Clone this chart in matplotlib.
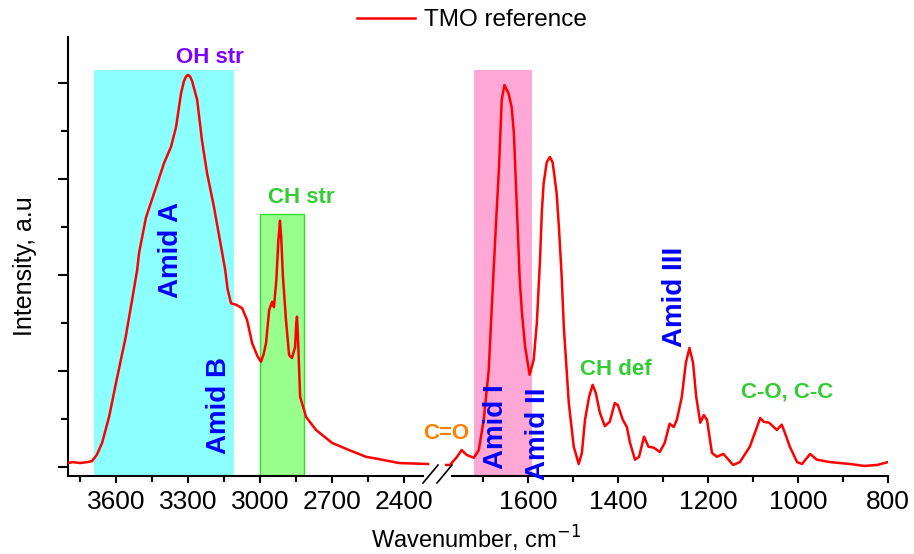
import matplotlib
matplotlib.use('Agg')
import matplotlib.pyplot as plt
from matplotlib.ticker import MultipleLocator
from matplotlib.patches import Rectangle
from matplotlib.lines import Line2D

plt.rcParams['font.family'] = ['Liberation Sans', 'DejaVu Sans']

# Спектр, левая часть (3800-2300 см-1)
wn_left = [3800, 3780, 3750, 3720, 3700, 3680, 3658, 3629, 3600, 3560, 3533, 3512, 3504,
           3475, 3433, 3400, 3371, 3350, 3329, 3317, 3308, 3300, 3292, 3283, 3262, 3242, 3221, 3192,
           3162, 3145, 3135, 3121, 3100, 3075, 3054, 3033, 3010, 2996, 2985, 2975, 2962,
           2950, 2942, 2932, 2924, 2917, 2912, 2905, 2892, 2879, 2867, 2854, 2849, 2846,
           2842, 2833, 2808, 2767, 2700, 2629, 2558, 2492, 2421, 2360, 2300]
int_left = [0.008, 0.010, 0.008, 0.010, 0.012, 0.025, 0.050, 0.104, 0.175, 0.270, 0.348, 0.410, 0.446,
            0.520, 0.583, 0.633, 0.667, 0.708, 0.779, 0.804, 0.814, 0.817, 0.814, 0.804, 0.765, 0.681, 0.613, 0.542,
            0.458, 0.410, 0.370, 0.341, 0.338, 0.331, 0.306, 0.258, 0.230, 0.219, 0.235, 0.258, 0.327,
            0.344, 0.333, 0.390, 0.470, 0.513, 0.480, 0.400, 0.306, 0.233, 0.227, 0.250, 0.300, 0.313,
            0.270, 0.146, 0.104, 0.077, 0.050, 0.035, 0.021, 0.015, 0.008, 0.007, 0.006]

# Спектр, правая часть (1800-800 см-1)
wn_right = [1784, 1773, 1758, 1747, 1736, 1720, 1709, 1698, 1687, 1676, 1670, 1664, 1658, 1652, 1643,
            1636, 1631, 1625, 1618, 1613, 1606, 1596, 1587, 1580, 1573, 1569, 1565, 1558, 1551, 1545,
            1540, 1536, 1531, 1525, 1520, 1509, 1498, 1487, 1480, 1473, 1464, 1456, 1449, 1440, 1429, 1418,
            1407, 1400, 1389, 1380, 1373, 1362, 1353, 1342, 1332, 1320, 1307, 1296, 1285, 1276,
            1269, 1258, 1249, 1241, 1233, 1226, 1217, 1209, 1202, 1191, 1180, 1166, 1158, 1144,
            1129, 1107, 1091, 1084, 1076, 1064, 1047, 1036, 1029, 1018, 1002, 991, 973, 958,
            929, 884, 853, 824, 800]
int_right = [0.004, 0.004, 0.020, 0.035, 0.025, 0.019, 0.035, 0.098, 0.200, 0.410, 0.520, 0.625, 0.765, 0.796, 0.779,
             0.750, 0.696, 0.556, 0.390, 0.320, 0.250, 0.192, 0.223, 0.300, 0.430, 0.530, 0.590, 0.635, 0.646, 0.635,
             0.600, 0.570, 0.500, 0.400, 0.290, 0.133, 0.042, 0.006, 0.029, 0.098, 0.146, 0.171, 0.154, 0.113, 0.085, 0.094,
             0.133, 0.129, 0.098, 0.083, 0.050, 0.015, 0.021, 0.063, 0.042, 0.040, 0.031, 0.050, 0.090, 0.083,
             0.098, 0.146, 0.217, 0.248, 0.217, 0.146, 0.092, 0.108, 0.098, 0.029, 0.021, 0.027, 0.019, 0.004,
             0.010, 0.042, 0.083, 0.102, 0.094, 0.092, 0.077, 0.088, 0.071, 0.042, 0.010, 0.006, 0.027, 0.015,
             0.010, 0.006, 0.002, 0.004, 0.010]

# Выделенные области: (начало, конец, высота)
band_oh = (3692, 3108, 0.827)
band_ch = (3000, 2817, 0.527)
band_amid1 = (1720, 1591, 0.827)

ticks_left = [3600, 3300, 3000, 2700, 2400]
ticks_right = [1600, 1400, 1200, 1000, 800]

W, H = 914, 554
fig = plt.figure(figsize=(W / 100, H / 100), dpi=100)
bottom = (H - 476) / H
height = (476 - 37) / H
ax1 = fig.add_axes([68 / W, bottom, 362 / W, height])
ax2 = fig.add_axes([445 / W, bottom, 443 / W, height])

ylim = (-0.019, 0.896)
ax1.set_xlim(3800, 2292)
ax2.set_xlim(1784, 800)
for ax in (ax1, ax2):
    ax.set_ylim(*ylim)
    ax.spines['top'].set_visible(False)
    ax.spines['right'].set_visible(False)
    ax.spines['bottom'].set_linewidth(1.5)
    ax.tick_params(axis='x', which='major', direction='out', length=5, width=1.5,
                   labelsize=19, pad=5)
    ax.tick_params(axis='x', which='minor', direction='out', length=4, width=1.5)

ax1.spines['left'].set_linewidth(1.5)
ax1.spines['bottom'].set_bounds(3800, 2321)
ax2.spines['bottom'].set_bounds(1769, 800)
ax2.spines['left'].set_visible(False)
ax2.tick_params(axis='y', which='both', left=False, labelleft=False)

ax1.set_xticks(ticks_left)
ax1.xaxis.set_minor_locator(MultipleLocator(150))
ax2.set_xticks(ticks_right)
ax2.xaxis.set_minor_locator(MultipleLocator(100))

ax1.yaxis.set_major_locator(MultipleLocator(0.2))
ax1.yaxis.set_minor_locator(MultipleLocator(0.1))
ax1.tick_params(axis='y', which='major', direction='out', length=7, width=1.5, labelleft=False)
ax1.tick_params(axis='y', which='minor', direction='out', length=5, width=1.5)

# Полосы
ax1.add_patch(Rectangle((band_oh[1], ylim[0]), band_oh[0] - band_oh[1], band_oh[2] - ylim[0],
                        facecolor='#8CFFFF', edgecolor='none', zorder=1))
ax1.add_patch(Rectangle((band_ch[1], ylim[0]), band_ch[0] - band_ch[1], band_ch[2] - ylim[0],
                        facecolor='#99FF8C', edgecolor='#33DD33', lw=1, zorder=1))
ax2.add_patch(Rectangle((band_amid1[1], ylim[0]), band_amid1[0] - band_amid1[1], band_amid1[2] - ylim[0],
                        facecolor='#FFA8D6', edgecolor='none', zorder=1))

line, = ax1.plot(wn_left, int_left, color='red', lw=1.8, zorder=3, label='TMO reference')
ax2.plot(wn_right, int_right, color='red', lw=1.8, zorder=3)

# Подписи
bold = dict(fontweight='bold', ha='center', va='center', zorder=4)
ax1.text(3208, 0.854, 'OH str', color='#8000FF', fontsize=16, **bold)
ax1.text(2829, 0.5625, 'CH str', color='#33CC33', fontsize=16, **bold)
ax1.text(3371, 0.452, 'Amid A', color='#0000FF', fontsize=20, rotation=90, **bold)
ax1.text(3171, 0.127, 'Amid B', color='#0000FF', fontsize=20, rotation=90, **bold)
ax2.text(1782, 0.07, 'C=O', color='#FF8000', fontsize=16, **bold)
ax2.text(1671, 0.083, 'Amid I', color='#0000FF', fontsize=20, rotation=90, **bold)
ax2.text(1578, 0.069, 'Amid II', color='#0000FF', fontsize=20, rotation=90, **bold)
ax2.text(1404, 0.202, 'CH def', color='#33CC33', fontsize=16, **bold)
ax2.text(1273, 0.354, 'Amid III', color='#0000FF', fontsize=20, rotation=90, **bold)
ax2.text(1024, 0.156, 'C-O, C-C', color='#33CC33', fontsize=16, **bold)

# Разрыв оси
for x0 in (423, 437):
    fig.add_artist(Line2D([x0 / W, (x0 + 15) / W], [1 - 483 / H, 1 - 465 / H],
                          transform=fig.transFigure, color='black', lw=1.2))

fig.text(476 / W, 1 - 549 / H, 'Wavenumber, cm$^{-1}$', fontsize=17, ha='center', va='baseline')
fig.text(25 / W, 1 - 266 / H, 'Intensity, a.u', fontsize=18, rotation=90, ha='center', va='center')

fig.legend(handles=[line], loc='center', bbox_to_anchor=(472 / W, 1 - 20 / H), frameon=False,
           fontsize=17.5, handlelength=2.4, handletextpad=0.35)

plt.savefig('out.png', dpi=100)
plt.close()
